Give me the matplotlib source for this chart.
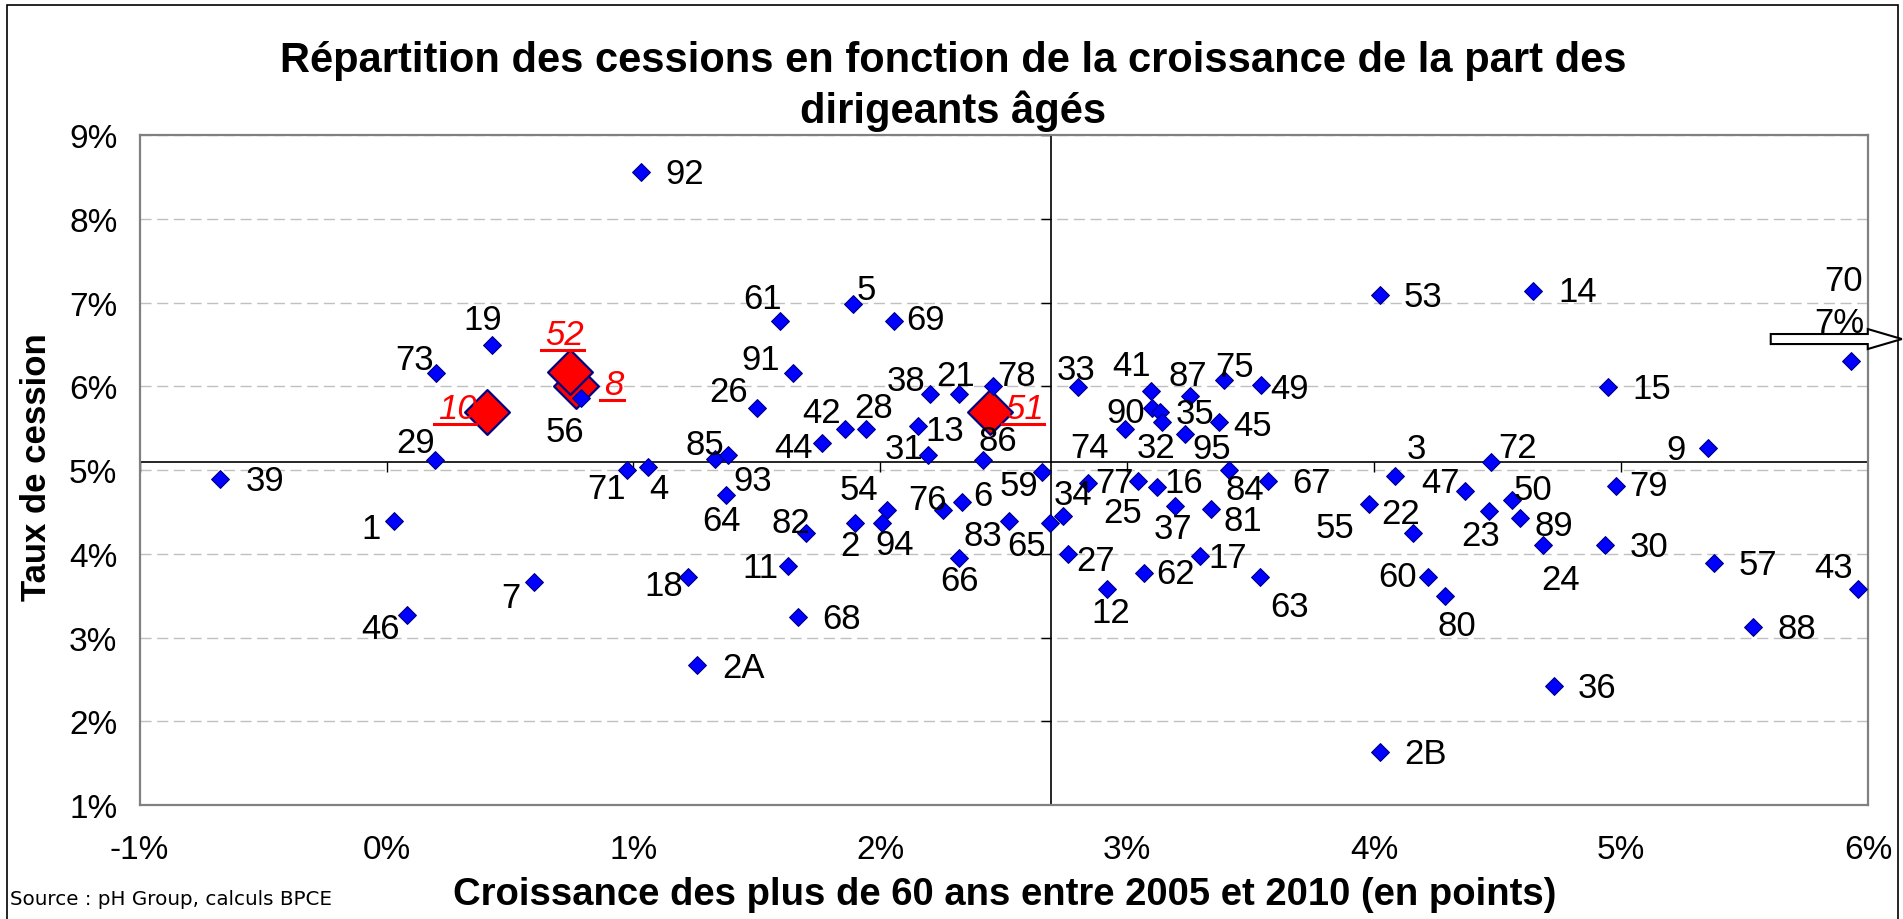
import matplotlib
matplotlib.use("Agg")
import matplotlib.pyplot as plt
from matplotlib.patches import FancyArrow, Rectangle
from matplotlib.lines import Line2D
from matplotlib.markers import TICKDOWN, TICKLEFT
from matplotlib.ticker import FuncFormatter

# departements (blue points)
dept = ["92", "19", "73", "56", "29", "85", "93", "64", "39", "71", "4", "1", "7", "18", "46", "2A",
        "61", "5", "69", "91", "26", "42", "28", "44", "38", "21", "78", "13", "31", "86",
        "33", "41", "87", "75", "49", "90", "35", "32", "74", "95", "45",
        "59", "34", "77", "25", "16", "37", "84", "81", "67", "65", "83",
        "54", "2", "94", "82", "11", "68", "76", "6", "66", "27", "12", "62", "17", "63",
        "53", "14", "15", "9", "70", "3", "72", "47", "55", "22", "23", "50", "89", "24",
        "79", "30", "57", "43", "60", "80", "88", "36", "2B"]
croissance = [1.029, 0.428, 0.200, 0.789, 0.198, 1.330, 1.381, 1.374, -0.675, 0.975, 1.057, 0.030, 0.596, 1.220, 0.081, 1.259,
              1.594, 1.889, 2.056, 1.648, 1.501, 1.857, 1.940, 1.762, 2.203, 2.319, 2.455, 2.153, 2.193, 2.415,
              2.802, 3.097, 3.255, 3.391, 3.541, 3.099, 3.134, 3.142, 2.992, 3.235, 3.371,
              2.655, 2.740, 2.843, 3.043, 3.120, 3.194, 3.411, 3.338, 3.569, 2.686, 2.521,
              2.025, 1.899, 2.006, 1.700, 1.628, 1.668, 2.255, 2.330, 2.319, 2.761, 2.919, 3.066, 3.295, 3.538,
              4.022, 4.642, 4.946, 5.354, 5.933, 4.083, 4.473, 4.368, 3.981, 4.157, 4.465, 4.558, 4.589, 4.683,
              4.978, 4.936, 5.378, 5.958, 4.220, 4.285, 5.534, 4.727, 4.022]
taux = [8.555, 6.496, 6.158, 5.856, 5.123, 5.131, 5.183, 4.702, 4.893, 5.004, 5.032, 4.387, 3.659, 3.719, 3.269, 2.672,
        6.776, 6.982, 6.783, 6.158, 5.737, 5.490, 5.490, 5.322, 5.907, 5.907, 5.999, 5.522, 5.183, 5.123,
        5.995, 5.940, 5.887, 6.075, 6.019, 5.740, 5.689, 5.570, 5.490, 5.430, 5.577,
        4.980, 4.454, 4.841, 4.872, 4.793, 4.567, 5.004, 4.534, 4.865, 4.367, 4.395,
        4.526, 4.367, 4.367, 4.248, 3.857, 3.241, 4.522, 4.622, 3.946, 3.997, 3.579, 3.770, 3.970, 3.719,
        7.090, 7.141, 5.995, 5.259, 6.298, 4.925, 5.092, 4.753, 4.594, 4.248, 4.507, 4.645, 4.423, 4.104,
        4.813, 4.108, 3.886, 3.579, 3.719, 3.492, 3.122, 2.425, 1.637]

# departements mis en avant (red)
focus_dept = ["8", "52", "10", "51"]
focus_croissance = [0.766, 0.7425, 0.4065, 2.446]
focus_taux = [6.007, 6.166, 5.689, 5.689]

x_cross = 2.69
y_cross = 5.1
x_ticks = [-1, 0, 1, 2, 3, 4, 5, 6]
y_ticks = [1, 2, 3, 4, 5, 6, 7, 8, 9]
note_70 = "7%"

# label offsets in points (layout only)
offs = {
    "92": (31.7, -1.2), "19": (-6.6, 18.5), "73": (-15.7, 9.6), "56": (-11.5, -24), "29": (-14.6, 12.5),
    "85": (-7.2, 10.8), "93": (18, -18.7), "64": (-3.1, -18.5), "39": (32.3, -1.2), "71": (-15.1, -13.4),
    "4": (8, -15.6), "1": (-16.5, -5.5), "7": (-16.6, -10.8), "18": (-17.4, -6), "46": (-18.8, -9.6),
    "2A": (33.5, -1.7), "61": (-12.5, 16.1), "5": (9.6, 10.3), "69": (22.6, 1.2), "91": (-23.4, 9.6),
    "26": (-20.7, 12), "42": (-16.6, 12), "28": (6, 15.6), "44": (-20.2, -3.1), "38": (-17.4, 9.6),
    "21": (-2.7, 13.7), "78": (17.1, 7.6), "13": (19, -3.2), "31": (-17.1, 4.1), "86": (11, 13.7),
    "33": (-1.4, 12.2), "41": (-13.8, 18.4), "87": (-2, 14.9), "75": (7.7, 9.9), "49": (20.7, -2.6),
    "90": (-18.4, -3.1), "35": (25.2, -1.2), "32": (-4.3, -18), "74": (-25.7, -13.2), "95": (18.7, -10.8),
    "45": (24, -2.9), "59": (-16.6, -10.1), "34": (7.2, 15.6), "77": (18.5, 0.5), "25": (-10.8, -22.8),
    "16": (19.2, 3.6), "37": (-1.7, -16.3), "84": (11.3, -14.4), "81": (23.3, -8.4), "67": (31.4, -0.7),
    "65": (-16.5, -16.3), "83": (-18.7, -10.8), "54": (-20.1, 14.9), "2": (-3.8, -16.3), "94": (9.4, -15.6),
    "82": (-11, 7.2), "11": (-19.9, -1.2), "68": (31.4, -1.2), "76": (-11.5, 7.4), "6": (15.2, 4.3),
    "66": (0, -16.1), "27": (19.8, -4.8), "12": (2.7, -16.8), "62": (22.8, -0.7), "17": (19.8, -0.7),
    "63": (21.2, -20.7), "53": (31.5, -0.9), "14": (32.3, -0.7), "15": (32, -1.2), "9": (-23.5, -0.5),
    "70": (-5.7, 58), "3": (15.8, 19.7), "72": (18.9, 10.8), "47": (-17.7, 6), "55": (-24.6, -16.8),
    "22": (-8.9, 13.7), "23": (-6.3, -17.6), "50": (15.2, 7.7), "89": (24.6, -5.3), "24": (12.9, -24.5),
    "79": (24, 0), "30": (31.5, -1.2), "57": (31.5, -1.2), "43": (-17.1, 15.6), "60": (-22, 0.7),
    "80": (9.1, -21.2), "88": (31.5, -1.2), "36": (31.5, -1.2), "2B": (33.2, -1),
    "8": (27.5, 1.2), "52": (-4.1, 26.9), "10": (-21.5, 2.4), "51": (24.8, 2.4),
}

font = "Liberation Sans"
lab_size = 25
fig = plt.figure(figsize=(19.03, 9.2), dpi=100)
ax = fig.add_axes([0.07336, 0.12391, 0.90825, 0.72826])

ax.set_xlim(-1, 6)
ax.set_ylim(1, 9)
ax.set_xticks(x_ticks)
ax.set_yticks(y_ticks)
pct = FuncFormatter(lambda v, p: "%d%%" % round(v))
ax.xaxis.set_major_formatter(pct)
ax.yaxis.set_major_formatter(pct)
ax.tick_params(axis="both", length=0, labelsize=24)
ax.tick_params(axis="x", pad=21)
ax.tick_params(axis="y", pad=16)
for lab in ax.get_xticklabels() + ax.get_yticklabels():
    lab.set_fontfamily(font)

for s in ax.spines.values():
    s.set_color("#808080")
    s.set_linewidth(1.6)

ax.grid(axis="y", color="#c0c0c0", linestyle=(0, (8, 4)), linewidth=1)
ax.set_axisbelow(True)

# axes crossing at the averages
ax.axhline(y_cross, color="black", lw=1.2, zorder=2)
ax.axvline(x_cross, color="black", lw=1.2, zorder=2)
ax.plot(x_ticks, [y_cross] * len(x_ticks), ls="none", marker=TICKDOWN, ms=7, mew=1, color="black", zorder=2)
ax.plot([x_cross] * len(y_ticks), y_ticks, ls="none", marker=TICKLEFT, ms=7, mew=1, color="black", zorder=2)

ax.scatter(focus_croissance, focus_taux, marker="D", s=520, c="#ff0000", edgecolors="#000080",
           linewidths=1.6, zorder=3)
ax.scatter(croissance, taux, marker="D", s=82, c="#0000ff", edgecolors="#000080", linewidths=0.8, zorder=4)

for d, x, y in zip(dept, croissance, taux):
    ax.annotate(d, (x, y), xytext=offs[d], textcoords="offset points", ha="center", va="center",
                fontsize=lab_size, family=font, zorder=5, annotation_clip=False)

i70 = dept.index("70")
ax.annotate(note_70, (croissance[i70], taux[i70]), xytext=(-8.6, 28.1), textcoords="offset points",
            ha="center", va="center", fontsize=lab_size, family=font, zorder=5, annotation_clip=False)

red_texts = []
for d, x, y in zip(focus_dept, focus_croissance, focus_taux):
    t = ax.annotate(d, (x, y), xytext=offs[d], textcoords="offset points", ha="center", va="center",
                    fontsize=lab_size, family=font, style="italic", color="#ff0000", zorder=5)
    red_texts.append(t)

# arrow for the value off the chart
arr = FancyArrow(0.9305, 0.6304, 0.0689, 0, width=0.0109, head_width=0.0217, head_length=0.0179,
                 length_includes_head=True, transform=fig.transFigure, facecolor="white",
                 edgecolor="black", lw=1.5, zorder=10, clip_on=False)
fig.add_artist(arr)

fig.text(0.501, 0.9221, "Répartition des cessions en fonction de la croissance de la part des",
         ha="center", va="baseline", fontsize=30, fontweight="bold", family=font)
fig.text(0.501, 0.8666, "dirigeants âgés", ha="center", va="baseline", fontsize=30,
         fontweight="bold", family=font)
fig.text(0.5278, 0.0163, "Croissance des plus de 60 ans entre 2005 et 2010 (en points)",
         ha="center", va="baseline", fontsize=27.5, fontweight="bold", family=font)
fig.text(0.0191, 0.4924, "Taux de cession", rotation=90, ha="center", va="center",
         fontsize=25, fontweight="bold", family=font)
fig.text(0.0053, 0.0163, "Source : pH Group, calculs BPCE", ha="left", va="baseline",
         fontsize=14.3, family="DejaVu Sans")

# chart frame
fig.add_artist(Rectangle((0.0037, -0.02), 0.9935, 1.0135, transform=fig.transFigure,
                         fill=False, edgecolor="black", lw=1.2, zorder=0))

# underline the highlighted labels
fig.canvas.draw()
inv = fig.transFigure.inverted()
for t in red_texts:
    bb = t.get_window_extent()
    (x0, y0), (x1, _) = inv.transform([(bb.x0 - 4, bb.y0 + 1), (bb.x1, bb.y0 + 1)])
    fig.add_artist(Line2D([x0, x1], [y0, y0], transform=fig.transFigure, color="#ff0000", lw=2.2))

fig.savefig("out.png", dpi=100)
